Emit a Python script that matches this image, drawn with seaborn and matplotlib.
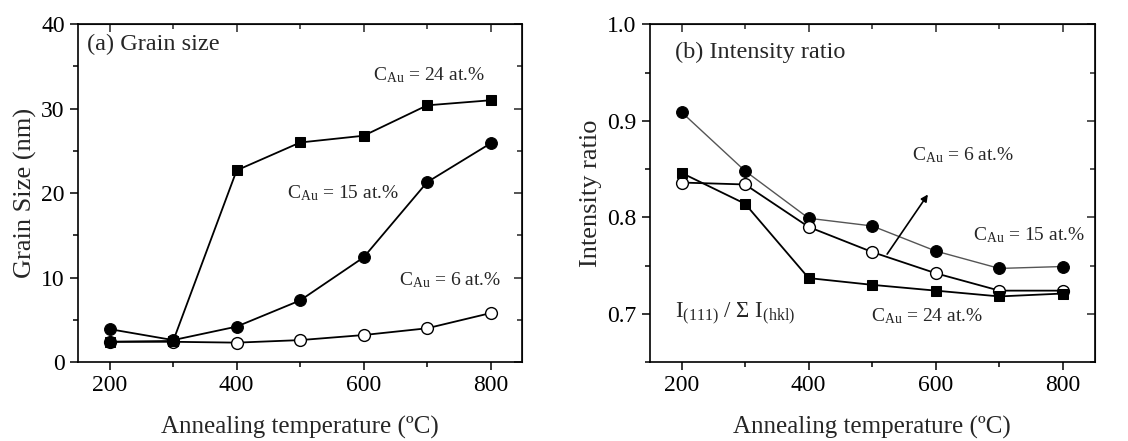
import numpy as np
import pandas as pd
import matplotlib
matplotlib.use("Agg")
import matplotlib.pyplot as plt
from matplotlib.ticker import MultipleLocator
import seaborn as sns

# data
temp = [200, 300, 400, 500, 600, 700, 800]

grain_24 = [2.4, 2.5, 22.7, 26.0, 26.8, 30.4, 31.0]
grain_15 = [3.9, 2.6, 4.2, 7.3, 12.4, 21.3, 25.9]
grain_6 = [2.4, 2.4, 2.3, 2.6, 3.2, 4.0, 5.8]

ratio_15 = [0.909, 0.848, 0.799, 0.791, 0.765, 0.747, 0.749]
ratio_6 = [0.836, 0.834, 0.790, 0.764, 0.742, 0.724, 0.724]
ratio_24 = [0.846, 0.814, 0.737, 0.730, 0.724, 0.718, 0.721]

sns.set_style("ticks")
plt.rcParams["font.family"] = ["Liberation Serif", "DejaVu Serif"]
plt.rcParams["mathtext.fontset"] = "custom"
plt.rcParams["mathtext.rm"] = "Liberation Serif"
plt.rcParams["mathtext.it"] = "Liberation Serif:italic"

fig = plt.figure(figsize=(11.28, 4.41), dpi=100)
ax1 = fig.add_axes([0.0691, 0.179, 0.394, 0.766])
ax2 = fig.add_axes([0.576, 0.179, 0.3945, 0.766])

filled = dict(color="black", markeredgecolor="black", linewidth=1.3)
hollow = dict(color="black", markerfacecolor="white", markeredgecolor="black",
              markeredgewidth=1.0, linewidth=1.3)

# (a) grain size
sns.lineplot(x=temp, y=grain_6, ax=ax1, marker="o", markersize=8.5, **hollow)
sns.lineplot(x=temp, y=grain_15, ax=ax1, marker="o", markersize=8.5, **filled)
sns.lineplot(x=temp, y=grain_24, ax=ax1, marker="s", markersize=7.5, **filled)

# (b) intensity ratio
sns.lineplot(x=temp, y=ratio_15, ax=ax2, marker="o", markersize=8.5,
             color="#555555", markerfacecolor="black", markeredgecolor="black",
             linewidth=1.0)
sns.lineplot(x=temp, y=ratio_6, ax=ax2, marker="o", markersize=8.5, **hollow)
sns.lineplot(x=temp, y=ratio_24, ax=ax2, marker="s", markersize=7.5, **filled)

cau = r"C$_{\mathrm{Au}}$"
ax1.text(164, 37.6, "(a) Grain size", fontsize=17.5, va="center")
ax1.text(614, 34.0, cau + " = 24 at.%", fontsize=14, va="center")
ax1.text(480, 20.0, cau + " = 15 at.%", fontsize=14, va="center")
ax1.text(655, 9.7, cau + " = 6 at.%", fontsize=14, va="center")

ax2.text(189, 0.971, "(b) Intensity ratio", fontsize=17.5, va="center")
ax2.text(563, 0.864, cau + " = 6 at.%", fontsize=14, va="center")
ax2.text(659, 0.781, cau + " = 15 at.%", fontsize=14, va="center")
ax2.text(498, 0.698, cau + " = 24 at.%", fontsize=14, va="center")
ax2.text(189, 0.700, r"I$_{\mathrm{(111)}}$ / Σ I$_{\mathrm{(hkl)}}$", fontsize=16.5, va="center")
ax2.annotate("", xy=(590, 0.826), xytext=(521, 0.7595),
             arrowprops=dict(arrowstyle="-|>", color="black", lw=1.2,
                             mutation_scale=10))

ax1.set_xlim(150, 850)
ax1.set_ylim(0, 40)
ax1.yaxis.set_major_locator(MultipleLocator(10))
ax1.yaxis.set_minor_locator(MultipleLocator(5))
ax1.set_ylabel("Grain Size (nm)", fontsize=19, labelpad=3)

ax2.set_xlim(150, 850)
ax2.set_ylim(0.65, 1.0)
ax2.yaxis.set_major_locator(MultipleLocator(0.1))
ax2.yaxis.set_minor_locator(MultipleLocator(0.05))
ax2.set_ylabel("Intensity ratio", fontsize=19, labelpad=4)

for ax in (ax1, ax2):
    ax.xaxis.set_major_locator(MultipleLocator(200))
    ax.xaxis.set_minor_locator(MultipleLocator(100))
    ax.set_xlabel("Annealing temperature (ºC)", fontsize=18, labelpad=14)
    for sp in ax.spines.values():
        sp.set_visible(True)
        sp.set_linewidth(1.2)
        sp.set_color("black")
    ax.tick_params(which="both", direction="out", width=1.1, labelsize=17, colors="black")
    ax.tick_params(which="major", length=6)
    ax.tick_params(which="minor", length=3.5)
    # mirrored ticks pointing inward on top/right
    top = ax.secondary_xaxis("top")
    top.xaxis.set_major_locator(MultipleLocator(200))
    top.xaxis.set_minor_locator(MultipleLocator(100))
    top.tick_params(which="both", direction="in", labeltop=False, width=1.1)
    top.tick_params(which="major", length=6)
    top.tick_params(which="minor", length=3.5)
    right = ax.secondary_yaxis("right")
    right.yaxis.set_major_locator(ax.yaxis.get_major_locator())
    right.yaxis.set_minor_locator(ax.yaxis.get_minor_locator())
    right.tick_params(which="both", direction="in", labelright=False, width=1.1)
    right.tick_params(which="major", length=6)
    right.tick_params(which="minor", length=3.5)

fig.savefig("out.png", dpi=100)
